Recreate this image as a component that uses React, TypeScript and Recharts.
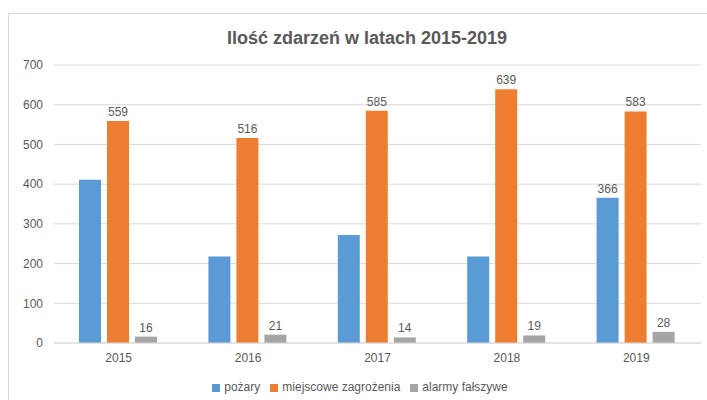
import { BarChart, Bar, XAxis, YAxis, CartesianGrid, Legend, LabelList } from 'recharts';

const years = ['2015', '2016', '2017', '2018', '2019'];
const pozary = [411, 218, 272, 218, 366];
const pozaryLabels = [null, null, null, null, 366];
const miejscowe = [559, 516, 585, 639, 583];
const alarmy = [16, 21, 14, 19, 28];
const yTicks = [0, 100, 200, 300, 400, 500, 600, 700];
const seriesOrder = ['pożary', 'miejscowe zagrożenia', 'alarmy fałszywe'];

const data = years.map((year, i) => ({
  year,
  pozary: pozary[i],
  pozaryLabel: pozaryLabels[i],
  miejscowe: miejscowe[i],
  alarmy: alarmy[i],
}));

const FONT = '"Liberation Sans", Arial, sans-serif';
const TEXT = '#595959';

const App = () => {
  return (
    <div style={{ position: 'absolute', left: 0, top: 0, width: 707, height: 400, background: '#fff', overflow: 'hidden', fontFamily: FONT }}>
      {/* chart frame, right/bottom edges fall outside the picture */}
      <div style={{ position: 'absolute', left: 8, top: 13, width: 760, height: 450, border: '1px solid #d9d9d9' }} />
      <div style={{ position: 'absolute', left: 0, top: 28, width: 734, textAlign: 'center', fontSize: 18, fontWeight: 'bold', color: TEXT }}>
        Ilość zdarzeń w latach 2015-2019
      </div>
      <div style={{ position: 'absolute', left: 0, top: 0 }}>
        <BarChart
          width={707}
          height={400}
          data={data}
          margin={{ top: 65, right: 6, left: 0, bottom: 27 }}
          barGap={6}
          barCategoryGap={25}
        >
          <CartesianGrid vertical={false} stroke="#d9d9d9" />
          <XAxis
            dataKey="year"
            height={30}
            axisLine={{ stroke: '#d9d9d9' }}
            tickLine={false}
            tickSize={0}
            tickMargin={10}
            tick={{ fill: TEXT, fontSize: 12, fontFamily: FONT }}
          />
          <YAxis
            width={54}
            domain={[0, 700]}
            ticks={yTicks}
            axisLine={false}
            tickLine={false}
            tickSize={0}
            tickMargin={11}
            tick={{ fill: TEXT, fontSize: 12, fontFamily: FONT }}
          />
          <Legend
            layout="horizontal"
            verticalAlign="middle"
            align="center"
            iconType="square"
            iconSize={8}
            itemSorter={(item) => seriesOrder.indexOf(String(item.value))}
            wrapperStyle={{ top: 380, left: 0, width: 730, fontSize: 12, fontFamily: FONT }}
            formatter={(value) => <span style={{ color: TEXT }}>{value}</span>}
          />
          <Bar dataKey="pozary" name="pożary" fill="#5B9BD5" isAnimationActive={false}>
            <LabelList dataKey="pozaryLabel" position="top" fill={TEXT} fontSize={12} fontFamily={FONT} />
          </Bar>
          <Bar dataKey="miejscowe" name="miejscowe zagrożenia" fill="#ED7D31" isAnimationActive={false}>
            <LabelList dataKey="miejscowe" position="top" fill={TEXT} fontSize={12} fontFamily={FONT} />
          </Bar>
          <Bar dataKey="alarmy" name="alarmy fałszywe" fill="#A5A5A5" isAnimationActive={false}>
            <LabelList dataKey="alarmy" position="top" fill={TEXT} fontSize={12} fontFamily={FONT} />
          </Bar>
        </BarChart>
      </div>
    </div>
  );
};

export default App;
